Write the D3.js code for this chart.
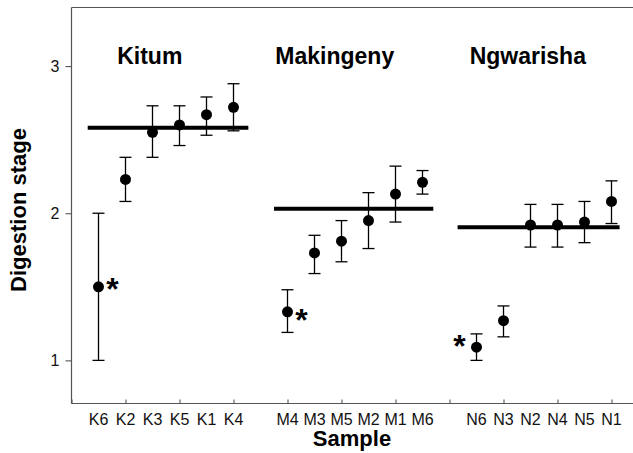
<!DOCTYPE html>
<meta charset="utf-8">
<style>
body { margin: 0; background: #fff; }
svg { display: block; }
text { font-family: "Liberation Sans", Arial, sans-serif; }
</style>
<body>
<svg id="chart" width="633" height="453"></svg>
<script src="https://d3js.org/d3.v7.min.js"></script>
<script>
// Samples, in plot order, with their slot on the x scale
var samples   = ["K6","K2","K3","K5","K1","K4","M4","M3","M5","M2","M1","M6","N6","N3","N2","N4","N5","N1"];
var slots     = [1, 2, 3, 4, 5, 6, 8, 9, 10, 11, 12, 13, 15, 16, 17, 18, 19, 20];
var means     = [1.50, 2.23, 2.55, 2.60, 2.67, 2.72, 1.33, 1.73, 1.81, 1.95, 2.13, 2.21, 1.09, 1.27, 1.92, 1.92, 1.94, 2.08];
var lower     = [1.00, 2.08, 2.38, 2.46, 2.53, 2.56, 1.19, 1.59, 1.67, 1.76, 1.94, 2.13, 1.00, 1.16, 1.77, 1.77, 1.80, 1.93];
var upper     = [2.00, 2.38, 2.73, 2.73, 2.79, 2.88, 1.48, 1.85, 1.95, 2.14, 2.32, 2.29, 1.18, 1.37, 2.06, 2.06, 2.08, 2.22];

// Sites: overall mean line and its extent in slot units
var sites     = ["Kitum", "Makingeny", "Ngwarisha"];
var siteMean  = [2.58, 2.03, 1.905];
var siteFrom  = [0.6, 7.5, 14.3];
var siteTo    = [6.55, 13.4, 20.3];
var siteLabel = [2.9, 9.75, 16.9];

// Samples flagged with an asterisk
var starred   = ["K6", "M4", "N6"];

var yTicks = [1, 2, 3];
var xTicks = [0, 2, 4, 6, 8, 10, 12, 14, 16, 18, 20];

var W = 633, H = 453,
  mLeft = 71.5, mTop = 7.5, mBottom = 403.5;

var svg = d3.select("#chart");

var x = d3.scaleLinear().domain([0, 1]).range([mLeft, mLeft + 27]);
var y = d3.scaleLinear().domain([0.707, 3.398]).range([mBottom, mTop]);

var axisColor = "#555";

// frame: top line and axes
svg.append("line")
  .attr("x1", mLeft).attr("x2", W).attr("y1", mTop).attr("y2", mTop)
  .attr("stroke", axisColor).attr("stroke-width", 1.2);

var yAxis = svg.append("g")
  .attr("transform", "translate(" + mLeft + ",0)")
  .call(d3.axisLeft(y).tickValues(yTicks).tickSize(6).tickPadding(6).tickFormat(d3.format("d")));
yAxis.select(".domain").remove();
yAxis.append("line").attr("x1", 0).attr("x2", 0).attr("y1", mTop).attr("y2", mBottom)
  .attr("stroke", axisColor).attr("stroke-width", 1.2);
yAxis.selectAll(".tick line").attr("stroke", axisColor).attr("stroke-width", 1.1);
yAxis.selectAll(".tick text").attr("font-size", 16).attr("fill", "#111")
  .style("font-family", "Liberation Sans, Arial, sans-serif");

var xAxis = svg.append("g")
  .attr("transform", "translate(0," + mBottom + ")")
  .call(d3.axisBottom(x).tickValues(xTicks).tickSize(-4).tickFormat(""));
xAxis.select(".domain").remove();
xAxis.append("line").attr("x1", mLeft).attr("x2", W).attr("y1", 0).attr("y2", 0)
  .attr("stroke", axisColor).attr("stroke-width", 1.2);
xAxis.selectAll(".tick line").attr("stroke", axisColor).attr("stroke-width", 1.1);

// sample labels under each point
svg.append("g").selectAll("text").data(samples).enter().append("text")
  .attr("x", function(d, i) { return x(slots[i]); })
  .attr("y", mBottom + 21)
  .attr("text-anchor", "middle")
  .attr("font-size", 16)
  .attr("fill", "#111")
  .text(function(d) { return d; });

// axis titles
svg.append("text")
  .attr("x", 352).attr("y", 446)
  .attr("text-anchor", "middle")
  .attr("font-size", 22).attr("font-weight", "bold")
  .text("Sample");

svg.append("text")
  .attr("transform", "translate(26," + 210 + ") rotate(-90)")
  .attr("text-anchor", "middle")
  .attr("font-size", 22).attr("font-weight", "bold")
  .text("Digestion stage");

// site labels and mean lines
svg.append("g").selectAll("text").data(sites).enter().append("text")
  .attr("x", function(d, i) { return x(siteLabel[i]); })
  .attr("y", 64)
  .attr("text-anchor", "middle")
  .attr("font-size", 23).attr("font-weight", "bold")
  .text(function(d) { return d; });

svg.append("g").selectAll("line").data(sites).enter().append("line")
  .attr("x1", function(d, i) { return x(siteFrom[i]); })
  .attr("x2", function(d, i) { return x(siteTo[i]); })
  .attr("y1", function(d, i) { return y(siteMean[i]); })
  .attr("y2", function(d, i) { return y(siteMean[i]); })
  .attr("stroke", "#000").attr("stroke-width", 4);

// error bars
var bars = svg.append("g").attr("stroke", "#000").attr("stroke-width", 1.3);
samples.forEach(function(s, i) {
  var cx = x(slots[i]);
  bars.append("line").attr("x1", cx).attr("x2", cx).attr("y1", y(lower[i])).attr("y2", y(upper[i]));
  bars.append("line").attr("x1", cx - 6).attr("x2", cx + 6).attr("y1", y(lower[i])).attr("y2", y(lower[i]));
  bars.append("line").attr("x1", cx - 6).attr("x2", cx + 6).attr("y1", y(upper[i])).attr("y2", y(upper[i]));
});

// points
svg.append("g").selectAll("circle").data(samples).enter().append("circle")
  .attr("cx", function(d, i) { return x(slots[i]); })
  .attr("cy", function(d, i) { return y(means[i]); })
  .attr("r", 5.5)
  .attr("fill", "#000");

// asterisks (N6 gets its mark on the left side)
svg.append("g").selectAll("text").data(starred).enter().append("text")
  .attr("x", function(d) {
    var i = samples.indexOf(d);
    return x(slots[i]) + (d == "N6" ? -17 : 14);
  })
  .attr("y", function(d) {
    var i = samples.indexOf(d);
    return y(means[i]) + (d == "M4" ? 19 : (d == "N6" ? 10 : 13));
  })
  .attr("text-anchor", "middle")
  .attr("font-size", 32).attr("font-weight", "bold")
  .text("*");
</script>
</body>
